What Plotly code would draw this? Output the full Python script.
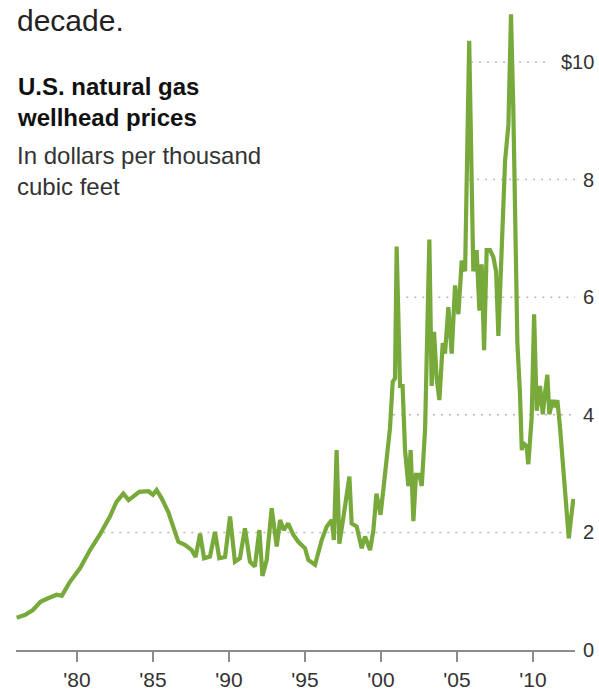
import plotly.graph_objects as go

# Monthly U.S. natural gas wellhead price, dollars per thousand cubic feet
years = [
    1976.03, 1976.6, 1977.1, 1977.6, 1978.1, 1978.66, 1979.0, 1979.54, 1980.2, 1980.86,
    1981.5, 1982.17, 1982.6, 1983.05, 1983.4, 1983.8, 1984.1, 1984.7, 1985.0, 1985.24,
    1985.57, 1986.0, 1986.34, 1986.67, 1987.1, 1987.55, 1987.8, 1988.1, 1988.36, 1988.75,
    1989.08, 1989.36, 1989.74, 1990.07, 1990.39, 1990.72, 1991.05, 1991.38, 1991.7, 1992.0,
    1992.2, 1992.48, 1992.81, 1993.14, 1993.36, 1993.6, 1993.9, 1994.23, 1994.56, 1995.0,
    1995.22, 1995.66, 1996.1, 1996.43, 1996.76, 1996.9, 1997.08, 1997.26, 1997.5, 1997.92,
    1998.07, 1998.4, 1998.73, 1998.95, 1999.28, 1999.5, 1999.7, 1999.97, 2000.15, 2000.4,
    2000.59, 2000.77, 2000.92, 2001.03, 2001.25, 2001.42, 2001.58, 2001.8, 2001.95, 2002.13,
    2002.3, 2002.52, 2002.68, 2002.9, 2003.18, 2003.33, 2003.49, 2003.66, 2003.84, 2004.06,
    2004.21, 2004.43, 2004.65, 2004.87, 2005.09, 2005.31, 2005.53, 2005.8, 2005.97, 2006.07,
    2006.29, 2006.47, 2006.62, 2006.78, 2006.95, 2007.17, 2007.39, 2007.57, 2007.72, 2007.94,
    2008.16, 2008.38, 2008.55, 2008.7, 2008.88, 2008.97, 2009.14, 2009.26, 2009.36, 2009.58,
    2009.69, 2009.91, 2010.07, 2010.24, 2010.46, 2010.64, 2010.79, 2010.94, 2011.07, 2011.3,
    2011.45, 2011.6, 2011.78, 2012.35, 2012.65,
]
prices = [
    0.55, 0.60, 0.68, 0.82, 0.88, 0.94, 0.92, 1.16, 1.39, 1.70,
    1.96, 2.27, 2.52, 2.66, 2.55, 2.64, 2.69, 2.70, 2.64, 2.72,
    2.58, 2.35, 2.10, 1.84, 1.79, 1.70, 1.58, 1.98, 1.56, 1.59,
    2.01, 1.56, 1.58, 2.27, 1.50, 1.56, 2.07, 1.50, 1.42, 2.04,
    1.26, 1.53, 2.41, 1.76, 2.21, 2.04, 2.15, 1.96, 1.84, 1.73,
    1.53, 1.45, 1.87, 2.10, 2.21, 1.87, 3.40, 1.81, 2.21, 2.95,
    2.15, 2.10, 1.73, 1.93, 1.70, 2.04, 2.66, 2.30, 2.72, 3.30,
    3.77, 4.56, 4.62, 6.86, 4.49, 4.49, 3.40, 2.79, 3.40, 2.19,
    2.98, 2.98, 2.79, 3.77, 6.98, 4.49, 5.41, 4.62, 4.25, 5.22,
    5.04, 5.83, 5.04, 6.20, 5.71, 6.62, 6.44, 10.36, 8.02, 6.44,
    6.80, 5.77, 6.56, 5.10, 6.80, 6.80, 6.68, 6.44, 5.34, 6.68,
    8.32, 8.93, 10.81, 9.23, 6.07, 5.22, 4.37, 3.40, 3.52, 3.46,
    3.16, 3.95, 5.71, 4.07, 4.49, 4.01, 4.37, 4.68, 4.01, 4.25,
    4.13, 4.25, 3.77, 1.90, 2.57,
]

x_tick_vals = [1980, 1985, 1990, 1995, 2000, 2005, 2010]
x_tick_text = ["'80", "'85", "'90", "'95", "'00", "'05", "'10"]
y_tick_vals = [0, 2, 4, 6, 8, 10]
y_tick_text = ["0", "2", "4", "6", "8", "$10"]

GREEN = "#78a93b"
AXIS_GRAY = "#8c8c8c"
GRID_GRAY = "#b8b8b8"
FONT = "Liberation Sans, Arial, sans-serif"

X_RANGE = [1975.99, 2012.76]
Y_RANGE = [0, 11.054]


def first_crossing(level):
    """Year at which the series first reaches the given level."""
    for i in range(1, len(prices)):
        if prices[i] >= level:
            p0, p1 = prices[i - 1], prices[i]
            y0, y1 = years[i - 1], years[i]
            if p1 == p0:
                return y1
            return y0 + (level - p0) / (p1 - p0) * (y1 - y0)
    return None


fig = go.Figure()
fig.add_trace(go.Scatter(
    x=years, y=prices, mode="lines",
    line=dict(color=GREEN, width=4.2),
    hoverinfo="skip", showlegend=False,
))

# Dotted reference lines start where prices first reach each level
shapes = []
for val, label in zip(y_tick_vals, y_tick_text):
    if val == 0:
        continue
    start = first_crossing(val) + 0.15
    end = X_RANGE[1] - 0.82 * (len(label) - 1)
    shapes.append(dict(
        type="line", xref="x", yref="y", x0=start, x1=end, y0=val, y1=val,
        line=dict(color=GRID_GRAY, width=1.5, dash="2px,6px"), layer="below",
    ))

annotations = []
for val, label in zip(y_tick_vals, y_tick_text):
    annotations.append(dict(
        xref="paper", yref="y", x=1.0376, y=val, text=label, showarrow=False,
        xanchor="right", yanchor="middle",
        font=dict(family=FONT, size=20, color="#333333"),
    ))

annotations += [
    dict(xref="paper", yref="paper", x=-0.0018, y=(650 - 21) / 650, text="decade.",
         showarrow=False, xanchor="left", yanchor="middle",
         font=dict(family=FONT, size=30, color="#222222")),
    dict(xref="paper", yref="paper", x=-0.0018, y=(650 - 102) / 650,
         text="<b>U.S. natural gas<br>wellhead prices</b>",
         showarrow=False, xanchor="left", yanchor="middle", align="left",
         font=dict(family=FONT, size=24, color="#111111")),
    dict(xref="paper", yref="paper", x=-0.0018, y=(650 - 171) / 650,
         text="In dollars per thousand<br>cubic feet",
         showarrow=False, xanchor="left", yanchor="middle", align="left",
         font=dict(family=FONT, size=24, color="#333333")),
]

fig.update_layout(
    width=599, height=691,
    margin=dict(l=16, r=24, t=0, b=41),
    paper_bgcolor="white", plot_bgcolor="white",
    shapes=shapes, annotations=annotations,
    xaxis=dict(
        range=X_RANGE, showgrid=False, zeroline=False,
        showline=True, linecolor=AXIS_GRAY, linewidth=2,
        ticks="outside", ticklen=10, tickwidth=2, tickcolor=AXIS_GRAY,
        tickvals=x_tick_vals, ticktext=x_tick_text,
        tickfont=dict(family=FONT, size=21, color="#333333"),
        fixedrange=True,
    ),
    yaxis=dict(
        range=Y_RANGE, showgrid=False, zeroline=False, showline=False,
        showticklabels=False, fixedrange=True,
    ),
)

fig.write_html("out.html")
